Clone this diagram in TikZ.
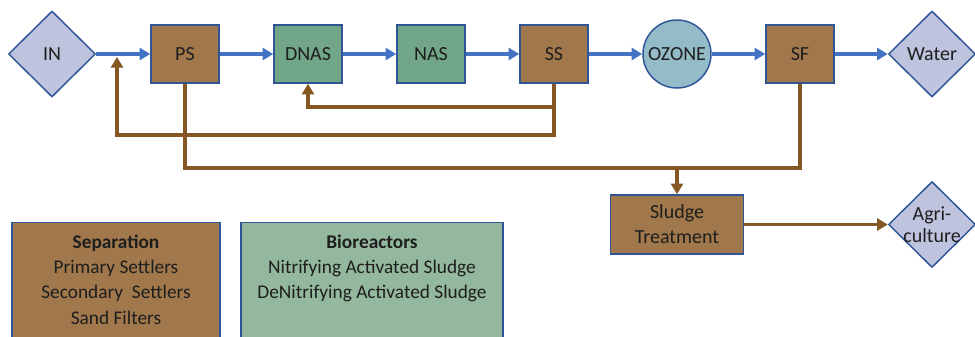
\documentclass[tikz,border=0pt]{standalone}
\usepackage{fontspec}
\setmainfont{Carlito}
\usetikzlibrary{shapes.geometric,arrows.meta}

\definecolor{boxbrown}{RGB}{160,120,75}
\definecolor{boxgreen}{RGB}{114,166,137}
\definecolor{legendgreen}{RGB}{147,184,157}
\definecolor{diafill}{RGB}{190,196,222}
\definecolor{ozonefill}{RGB}{148,187,200}
\definecolor{edgeblue}{RGB}{47,85,151}
\definecolor{flowblue}{RGB}{68,114,196}
\definecolor{sludgebrown}{RGB}{133,87,35}
\definecolor{txtgray}{RGB}{30,30,30}

\tikzset{every picture/.style={line width=0.75pt},
  unit/.style={draw=edgeblue, line width=1.1pt, minimum width=51pt, minimum height=43.5pt,
    inner sep=0pt, text=txtgray, align=center, font=\fontsize{15}{18.75}\selectfont},
  brownunit/.style={unit, fill=boxbrown},
  greenunit/.style={unit, fill=boxgreen},
  terminal/.style={diamond, draw=edgeblue, line width=1.1pt, fill=diafill, inner sep=0pt,
    minimum width=65.25pt, minimum height=64.5pt, text=txtgray, font=\fontsize{15}{18}\selectfont},
  legendbox/.style={draw=edgeblue, line width=1.1pt, anchor=north, minimum height=92pt},
  legendtext/.style={anchor=north, inner sep=0pt, align=center, text=txtgray,
    font=\fontsize{14.5}{19}\selectfont},
  flow/.style={draw=flowblue, line width=3pt, -{Triangle[length=8pt,width=9pt]}},
  sludgeline/.style={draw=sludgebrown, line width=3pt},
  sludgeflow/.style={sludgeline, -{Triangle[length=8pt,width=9pt]}}
}

\begin{document}
\begin{tikzpicture}[x=0.75pt,y=0.75pt,yscale=-1,xscale=1]
\useasboundingbox (0,0) rectangle (975,336);

%Main line
\node[terminal] (in) at (52,54) {IN};
\node[brownunit] (ps) at (185,54) {PS};
\node[greenunit] (dnas) at (308,54) {DNAS};
\node[greenunit] (nas) at (431,54) {NAS};
\node[brownunit] (ss) at (554,54) {SS};
\node[circle, unit, fill=ozonefill, minimum size=51pt] (ozone) at (677,54) {OZONE};
\node[brownunit] (sf) at (800,54) {SF};
\node[terminal] (water) at (932,54) {Water};

%Sludge line
\node[brownunit, minimum width=99.75pt, minimum height=44.25pt] (sludge) at (677,224.5) {Sludge\\Treatment};
\node[terminal, label={[text=txtgray, align=center, font=\fontsize{15}{16.5}\selectfont]center:Agri-\\culture}] (agri) at (932,224.5) {};

%Legend
\node[legendbox, fill=boxbrown, minimum width=156pt] (sep) at (116,222) {};
\node[legendtext] (septext) at (116,234) {\textbf{Separation}\\Primary Settlers\\Secondary\ \ Settlers\\Sand Filters};
\node[legendbox, fill=legendgreen, minimum width=196.5pt] (bio) at (372,222) {};
\node[legendtext] (biotext) at (372,234) {\textbf{Bioreactors}\\Nitrifying Activated Sludge\\DeNitrifying Activated Sludge};

%Water flow
\draw[flow] (in.east) -- (ps.west);
\draw[flow] (ps.east) -- (dnas.west);
\draw[flow] (dnas.east) -- (nas.west);
\draw[flow] (nas.east) -- (ss.west);
\draw[flow] (ss.east) -- (ozone.west);
\draw[flow] (ozone.east) -- (sf.west);
\draw[flow] (sf.east) -- (water.west);

%Returns
\coordinate (ret) at (117,57);
\draw[sludgeflow] (ss.south) -- (ss.south |- 0,135) -| (ret);
\draw[sludgeflow] (ss.south |- 0,107) -| (dnas.south);

%Excess sludge
\draw[sludgeline] (ps.south) -- (ps.south |- 0,168) -| (sf.south);
\draw[sludgeflow] (sludge.north |- 0,168) -- (sludge.north);
\draw[sludgeflow, line width=2.6pt] (sludge.east) -- (agri.west);

\end{tikzpicture}
\end{document}
